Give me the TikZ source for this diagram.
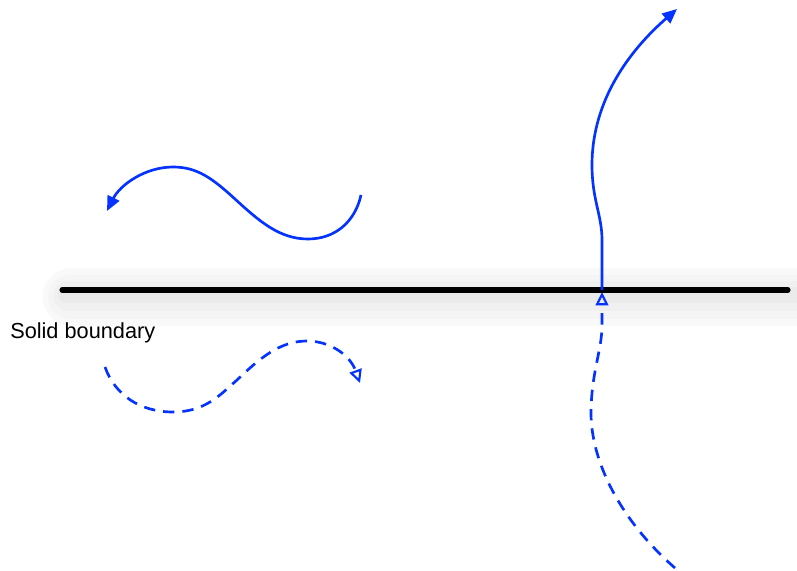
\documentclass[tikz,border=0pt]{standalone}
\usepackage{fontspec}
\setmainfont{Liberation Sans}
\usetikzlibrary{arrows.meta}
\definecolor{flowblue}{RGB}{4,51,255}
\tikzset{
  flow/.style={draw=flowblue,line width=2pt},
  dashflow/.style={draw=flowblue,line width=2pt,dash pattern=on 8.5pt off 6pt},
  fulltip/.style={-{Triangle[length=11pt,width=9.5pt]}},
  opentip/.style={-{Triangle[open,length=10pt,width=9.5pt,line width=1.6pt]}},
  glow/.style={line cap=round},
}
\begin{document}
\begin{tikzpicture}[x=0.75pt,y=-0.75pt]
\useasboundingbox (0,0) rectangle (797,571);
% soft shadow around the boundary
\draw[glow,line width=44pt,black!2.5] (72,297) -- (805,297);
\draw[glow,line width=33pt,black!4] (70,297) -- (805,297);
\draw[glow,line width=22pt,black!6] (68,296) -- (805,296);
\draw[glow,line width=12pt,black!8] (66,295) -- (805,295);
% boundary
\coordinate (bl) at (62,290);
\coordinate (br) at (788,290);
\draw[line width=3.8pt,line cap=round] (bl) -- (br);
\node[anchor=base west,inner sep=0pt,font=\fontsize{16.3}{19}\selectfont] (lab) at (10,338) {Solid boundary};
% upper wave (solid)
\coordinate (w1s) at (361,195);
\coordinate (w1e) at (107,211);
\draw[flow,fulltip] (w1s) .. controls (355,222) and (335,239) .. (308,239)
  .. controls (280,239) and (260,222) .. (235,199)
  .. controls (212,178) and (197,167) .. (173,167)
  .. controls (145,167) and (120,185) .. (w1e);
% lower wave (dashed)
\coordinate (w2s) at (105,367);
\coordinate (w2e) at (360,383);
\draw[dashflow,opentip] (w2s) .. controls (115,395) and (140,412) .. (173,412)
  .. controls (205,412) and (220,395) .. (237,380)
  .. controls (260,358) and (280,341) .. (307,341)
  .. controls (330,341) and (350,355) .. (w2e);
% crossing path
\coordinate (cx) at (602,290);
\coordinate (ctop) at (677,9);
\coordinate (cbot) at (675,568);
\coordinate (cin) at (602,292);
\draw[flow,fulltip] (cx) -- (602,240) .. controls (602,215) and (592,200) .. (592,165)
  .. controls (592,100) and (630,50) .. (ctop);
\draw[dashflow,opentip] (cbot) .. controls (620,520) and (590,460) .. (591,410)
  .. controls (592,370) and (602,350) .. (602,325) -- (cin);
\end{tikzpicture}
\end{document}
